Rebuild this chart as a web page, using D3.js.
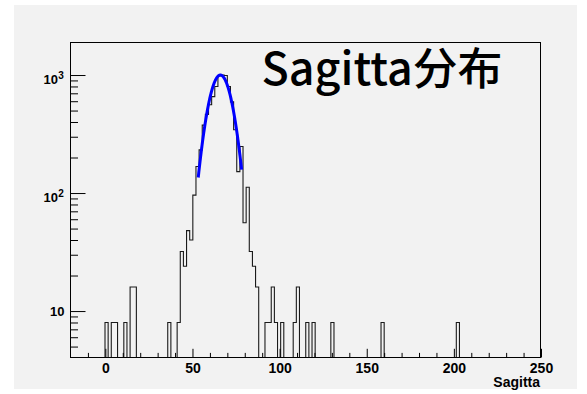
<!DOCTYPE html>
<html>
<head>
<meta charset="utf-8">
<script src="https://cdn.jsdelivr.net/npm/d3@7"></script>
<style>
  html, body { margin: 0; padding: 0; background: #ffffff; }
  svg { display: block; }
  .lbl { font-family: "Liberation Sans", Arial, sans-serif; font-weight: bold; fill: #000; }
</style>
</head>
<body>
<svg id="chart" width="587" height="394"></svg>
<script>
// Histogram binning: 150 bins of width 1.8 from -20 to 250
const binStart = -20;
const binWidth = 1.8;
const binCount = 150;

// Low edges of the non-empty bins and their entries
const binLowEdges = [
  -0.2, 3.4, 5.2, 10.6, 14.2, 16.0,
  35.8, 41.2, 43.0, 44.8, 46.6, 48.4, 50.2, 52.0, 53.8, 55.6, 57.4, 59.2,
  61.0, 62.8, 64.6, 66.4, 68.2, 70.0, 71.8, 73.6, 75.4, 77.2, 79.0, 80.8,
  82.6, 84.4, 86.2, 91.6, 93.4, 95.2, 97.0, 100.6, 107.8, 109.6, 115.0,
  118.6, 129.4, 158.2, 201.4
];
const binEntries = [
  8, 8, 8, 8, 16, 16,
  8, 8, 32, 24, 48, 40, 96, 168, 232, 376, 464, 560,
  656, 800, 984, 1000, 992, 800, 592, 344, 152, 248, 56, 112,
  32, 24, 16, 8, 8, 16, 8, 8, 8, 16, 8,
  8, 8, 8, 8
];

// Gaussian fit drawn over the peak
const fitConstant = 1000;
const fitMean = 66.0;
const fitSigma = 6.35;
const fitRange = [53.3, 78.2];

// Axis setup
const xDomain = [-20, 250];
const yDomain = [4.04, 1905];
const xMajorTicks = [0, 50, 100, 150, 200, 250];
const xMinorTicks = [-10, 10, 20, 30, 40, 60, 70, 80, 90, 110, 120, 130, 140,
                     160, 170, 180, 190, 210, 220, 230, 240];
const yMajorTicks = [10, 100, 1000];
const yMajorExponents = ["", "2", "3"];
const yMinorTicks = [5, 6, 7, 8, 9, 20, 30, 40, 50, 60, 70, 80, 90,
                     200, 300, 400, 500, 600, 700, 800, 900];
const titleText = "Sagitta分布";
const xTitle = "Sagitta";

const svg = d3.select("#chart");

// Pad background
svg.append("rect")
  .attr("x", 14).attr("y", 5).attr("width", 563).attr("height", 384)
  .attr("fill", "#f2f2f2");

const frame = { left: 70.5, right: 541, top: 42, bottom: 357.5 };

const x = d3.scaleLinear().domain(xDomain).range([frame.left, frame.right]);
const y = d3.scaleLog().domain(yDomain).range([frame.bottom, frame.top]);

// Clip for data marks
svg.append("clipPath").attr("id", "frameClip")
  .append("rect")
  .attr("x", frame.left).attr("y", frame.top)
  .attr("width", frame.right - frame.left)
  .attr("height", frame.bottom - frame.top);

// Fill every bin (empty ones sit on the frame floor)
const entries = new Array(binCount).fill(0);
binLowEdges.forEach((lo, i) => {
  const k = Math.round((lo - binStart) / binWidth);
  entries[k] = binEntries[i];
});

const stepPoints = [];
entries.forEach((c, k) => {
  const lo = binStart + k * binWidth;
  const hi = lo + binWidth;
  const yy = c > 0 ? y(c) : frame.bottom;
  stepPoints.push([x(lo), yy], [x(hi), yy]);
});

const dataLayer = svg.append("g").attr("clip-path", "url(#frameClip)");

dataLayer.append("path")
  .attr("d", d3.line()(stepPoints))
  .attr("fill", "none")
  .attr("stroke", "#1a1a1a")
  .attr("stroke-width", 1.1);

// Fit curve
const fitX = d3.range(fitRange[0], fitRange[1] + 1e-9, 0.1);
const fitLine = d3.line()
  .x(v => x(v))
  .y(v => y(fitConstant * Math.exp(-0.5 * Math.pow((v - fitMean) / fitSigma, 2))));
dataLayer.append("path")
  .attr("d", fitLine(fitX))
  .attr("fill", "none")
  .attr("stroke", "#0000ff")
  .attr("stroke-width", 3)
  .attr("stroke-linejoin", "round");

// X axis: ticks point up into the frame
const xAxisMajor = d3.axisBottom(x).tickValues(xMajorTicks).tickSizeInner(-8.7).tickSizeOuter(0).tickPadding(15);
const xAxisMinor = d3.axisBottom(x).tickValues(xMinorTicks).tickSizeInner(-4.6).tickSizeOuter(0).tickFormat("");

const gxMinor = svg.append("g").attr("transform", `translate(0,${frame.bottom})`).call(xAxisMinor);
const gxMajor = svg.append("g").attr("transform", `translate(0,${frame.bottom})`).call(xAxisMajor);
[gxMinor, gxMajor].forEach(g => {
  g.select(".domain").remove();
  g.selectAll(".tick line").attr("stroke", "#000");
});
gxMajor.selectAll(".tick text")
  .attr("class", "lbl")
  .attr("font-size", 14)
  .attr("y", 15.2)
  .attr("dy", null);

// Y axis: ticks point right into the frame
const yAxisMajor = d3.axisLeft(y).tickValues(yMajorTicks).tickSizeInner(-15).tickSizeOuter(0).tickFormat("");
const yAxisMinor = d3.axisLeft(y).tickValues(yMinorTicks).tickSizeInner(-7.5).tickSizeOuter(0).tickFormat("");
const gyMinor = svg.append("g").attr("transform", `translate(${frame.left},0)`).call(yAxisMinor);
const gyMajor = svg.append("g").attr("transform", `translate(${frame.left},0)`).call(yAxisMajor);
[gyMinor, gyMajor].forEach(g => {
  g.select(".domain").remove();
  g.selectAll(".tick line").attr("stroke", "#000");
});

// Power-of-ten labels
gyMajor.selectAll(".tick").each(function(d, i) {
  const g = d3.select(this);
  g.select("text").remove();
  const exp = yMajorExponents[i];
  const t = g.append("text").attr("class", "lbl").attr("text-anchor", "end");
  if (exp) {
    t.attr("x", -12.5).attr("y", 8).attr("font-size", 13).text("10");
    g.append("text").attr("class", "lbl").attr("text-anchor", "start")
      .attr("x", -12.3).attr("y", 3)
      .attr("font-size", 10).text(exp);
  } else {
    t.attr("x", -6).attr("y", 4.6).attr("font-size", 13).text("10");
  }
});

// Frame
svg.append("rect")
  .attr("x", frame.left).attr("y", frame.top + 0.5)
  .attr("width", frame.right - 0.5 - frame.left)
  .attr("height", frame.bottom - frame.top - 0.5)
  .attr("fill", "none")
  .attr("stroke", "#000")
  .attr("stroke-width", 1);

// X axis title
svg.append("text")
  .attr("class", "lbl")
  .attr("x", frame.right - 1).attr("y", 386.5)
  .attr("text-anchor", "end")
  .attr("font-size", 14)
  .text(xTitle);

// Title
const title = svg.append("text")
  .attr("x", 261.5).attr("y", 84.5)
  .attr("font-family", "'Noto Sans CJK SC', 'Noto Sans', sans-serif")
  .attr("font-weight", 500)
  .attr("font-size", 40)
  .attr("fill", "#000")
  .text(titleText);
const tw = title.node().getComputedTextLength();
title.attr("font-size", 40 * 241 / tw);
</script>
</body>
</html>
